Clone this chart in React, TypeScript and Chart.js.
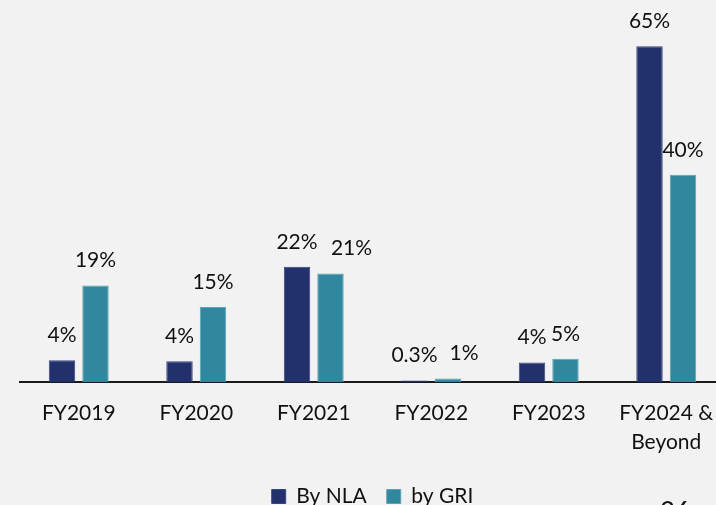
import React, { useEffect, useRef } from "react";
import { Chart, registerables } from "chart.js";

Chart.register(...registerables);

const categories: (string | string[])[] = [
  "FY2019",
  "FY2020",
  "FY2021",
  "FY2022",
  "FY2023",
  ["FY2024 &", "Beyond"],
];
const byNLA = [4.2, 4.0, 22.3, 0.3, 3.8, 65];
const byGRI = [18.7, 14.5, 21.0, 0.7, 4.5, 40.1];
const nlaLabels = ["4%", "4%", "22%", "0.3%", "4%", "65%"];
const griLabels = ["19%", "15%", "21%", "1%", "5%", "40%"];

const FONT = "Lato, 'Open Sans', sans-serif";
const NAVY = "#22306b";
const TEAL = "#31879e";

// small horizontal nudges used by the original layout for some labels
const labelNudge: Record<string, number[]> = {
  "1": [0, 0, 21, 16, 0, 0],
};

const valueLabelPlugin = {
  id: "valueLabels",
  afterDatasetsDraw(chart: any) {
    const ctx = chart.ctx;
    const texts = [nlaLabels, griLabels];
    ctx.save();
    ctx.font = `21px ${FONT}`;
    ctx.fillStyle = "#111";
    ctx.textAlign = "center";
    ctx.textBaseline = "middle";
    chart.data.datasets.forEach((_ds: any, di: number) => {
      const meta = chart.getDatasetMeta(di);
      meta.data.forEach((bar: any, i: number) => {
        const nudge = (labelNudge[String(di)] || [])[i] || 0;
        ctx.fillText(texts[di][i], bar.x + nudge, bar.y - 25);
      });
    });
    ctx.restore();
  },
};

export default function App() {
  const ref = useRef<HTMLCanvasElement>(null);
  useEffect(() => {
    if (!ref.current) return;
    const chart = new Chart(ref.current, {
      type: "bar",
      data: {
        labels: categories,
        datasets: [
          {
            label: "By NLA",
            data: byNLA,
            backgroundColor: NAVY,
            borderColor: "#3a4680",
            borderWidth: 1,
            borderSkipped: "bottom",
            categoryPercentage: 0.57,
            barPercentage: 0.79,
          },
          {
            label: "by GRI",
            data: byGRI,
            backgroundColor: TEAL,
            borderColor: "#5aa3b5",
            borderWidth: 1,
            borderSkipped: "bottom",
            categoryPercentage: 0.57,
            barPercentage: 0.79,
          },
        ],
      },
      options: {
        animation: false,
        responsive: false,
        maintainAspectRatio: false,
        layout: { padding: { left: 20, right: 15, top: 10, bottom: 4 } },
        scales: {
          x: {
            grid: { display: false },
            border: { display: true, color: "#1a1a1a", width: 2 },
            ticks: {
              color: "#111",
              padding: 9,
              maxRotation: 0,
              autoSkip: false,
              font: { family: FONT, size: 21, lineHeight: 1.38 },
            },
          },
          y: {
            display: false,
            min: 0,
            max: 72,
          },
        },
        plugins: {
          legend: {
            position: "bottom",
            labels: {
              color: "#111",
              boxWidth: 14,
              boxHeight: 14,
              padding: 20,
              font: { family: FONT, size: 21 },
            },
          },
          tooltip: { enabled: false },
        },
      },
      plugins: [valueLabelPlugin],
    });
    return () => chart.destroy();
  }, []);

  return (
    <div
      style={{
        position: "fixed",
        left: 0,
        top: 0,
        width: 716,
        height: 505,
        overflow: "hidden",
        background: "#f2f2f2",
      }}
    >
      <canvas ref={ref} width={740} height={521} style={{ display: "block" }} />
      <div
        style={{
          position: "absolute",
          left: 660,
          top: 498,
          fontFamily: FONT,
          fontSize: 26,
          lineHeight: "26px",
          color: "#111",
        }}
      >
        26
      </div>
    </div>
  );
}
